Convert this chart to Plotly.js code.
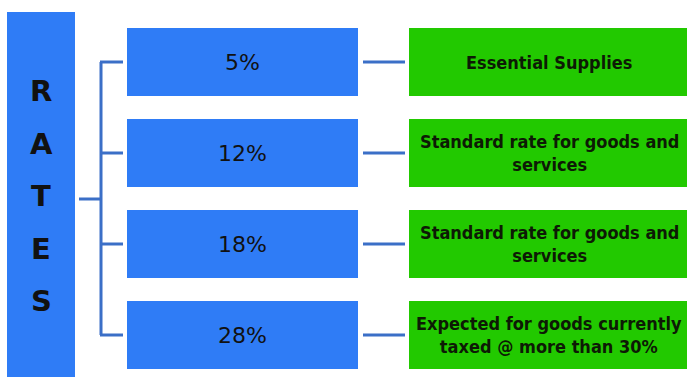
<!DOCTYPE html>
<html><head><meta charset="utf-8">
<script src="https://cdn.plot.ly/plotly-3.0.1.min.js"></script>
<style>html,body{margin:0;padding:0;background:#fff}#chart{width:687px;height:377px}</style>
</head><body><div id="chart"></div>
<script>
const titleLetters = ['R','A','T','E','S'];
const rates = ['5%','12%','18%','28%'];
const descriptions = [
  'Essential Supplies',
  'Standard rate for goods and<br>services',
  'Standard rate for goods and<br>services',
  'Expected for goods currently<br>taxed @ more than 30%'
];

const BLUE = '#2f7cf6', GREEN = '#22c900', LINE = '#3b6fc7';
const rowY = i => 62 + i * 91;
const boxH = 68;
const shapes = [];
const annotations = [];

// Title column
shapes.push({type:'rect', xref:'x', yref:'y', x0:7, x1:75, y0:12, y1:380, fillcolor:BLUE, line:{width:0}, layer:'below'});
titleLetters.forEach((l, i) => {
  annotations.push({xref:'x', yref:'y', x:41, y:91 + i*52.5, text:l, showarrow:false,
    font:{family:'DejaVu Sans, sans-serif', size:29, color:'#111', weight:'bold'}});
});
// Bracket
shapes.push({type:'line', xref:'x', yref:'y', x0:79, x1:101, y0:199, y1:199, line:{color:LINE, width:3}});
shapes.push({type:'line', xref:'x', yref:'y', x0:101, x1:101, y0:rowY(0), y1:rowY(rates.length-1), line:{color:LINE, width:3}});

rates.forEach((r, i) => {
  const yc = rowY(i);
  shapes.push({type:'line', xref:'x', yref:'y', x0:100, x1:123, y0:yc, y1:yc, line:{color:LINE, width:3}});
  shapes.push({type:'rect', xref:'x', yref:'y', x0:127, x1:358, y0:yc-boxH/2, y1:yc+boxH/2, fillcolor:BLUE, line:{width:0}});
  shapes.push({type:'line', xref:'x', yref:'y', x0:363, x1:405, y0:yc, y1:yc, line:{color:LINE, width:3}});
  shapes.push({type:'rect', xref:'x', yref:'y', x0:409, x1:690, y0:yc-boxH/2, y1:yc+boxH/2, fillcolor:GREEN, line:{width:0}});
  annotations.push({xref:'x', yref:'y', x:242, y:yc, text:r, showarrow:false,
    font:{family:'DejaVu Sans, sans-serif', size:22, color:'#111'}});
  annotations.push({xref:'x', yref:'y', x:549, y:yc, text:descriptions[i], showarrow:false,
    font:{family:'DejaVu Sans Condensed, DejaVu Sans, sans-serif', size:18, color:'#0d1a05', weight:'bold'}});
});

Plotly.newPlot('chart', [], {
  width:687, height:377,
  margin:{l:0, r:0, t:0, b:0},
  paper_bgcolor:'#fff', plot_bgcolor:'#fff',
  xaxis:{range:[0,687], visible:false, fixedrange:true},
  yaxis:{range:[377,0], visible:false, fixedrange:true},
  shapes, annotations, showlegend:false
}, {displayModeBar:false, staticPlot:true});
</script></body></html>
